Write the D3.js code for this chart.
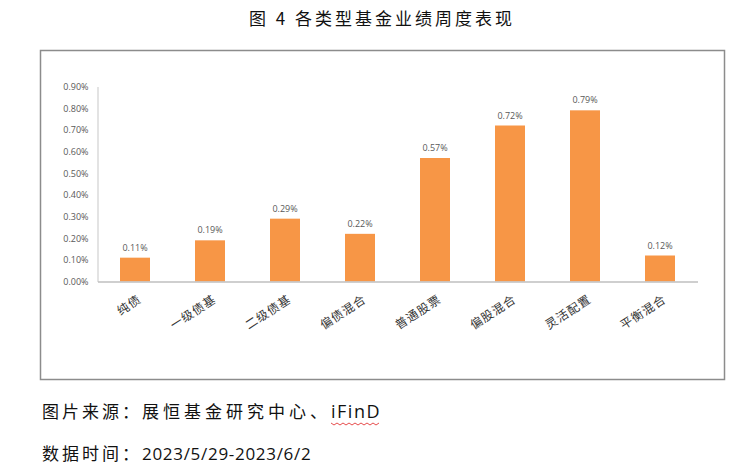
<!DOCTYPE html>
<html>
<head>
<meta charset="utf-8">
<script src="https://cdn.jsdelivr.net/npm/d3@7"></script>
<style>
  body { margin: 0; background: #fff; }
  text { font-family: "Noto Sans CJK SC", "Noto Sans", sans-serif; }
  .num { font-family: "Open Sans", "DejaVu Sans", sans-serif; }
</style>
</head>
<body>
<div class="container"></div>
<script>
var width = 746;
var height = 468;

// chart data
var categories = ['纯债', '一级债基', '二级债基', '偏债混合', '普通股票', '偏股混合', '灵活配置', '平衡混合'];
var returns = [0.11, 0.19, 0.29, 0.22, 0.57, 0.72, 0.79, 0.12];
var yTicks = [0, 0.1, 0.2, 0.3, 0.4, 0.5, 0.6, 0.7, 0.8, 0.9];

var titleText = '图 4 各类型基金业绩周度表现';
var sourceLabel = '图片来源：';
var sourceText = '展恒基金研究中心、';
var sourceBrand = 'iFinD';
var dateLabel = '数据时间：';
var dateText = '2023/5/29-2023/6/2';

var translate = function(x, y) {
    return 'translate(' + x + ',' + y + ')';
}

var draw = function() {
    var svg = d3.select('.container').append('svg')
        .attr('width', width)
        .attr('height', height);

    // title
    svg.append('text')
        .attr('x', 382)
        .attr('y', 25)
        .attr('text-anchor', 'middle')
        .style('font-size', '17px')
        .style('letter-spacing', '3px')
        .attr('fill', '#111')
        .text(titleText);

    // frame
    svg.append('rect')
        .attr('x', 40.5)
        .attr('y', 50.5)
        .attr('width', 684)
        .attr('height', 329)
        .attr('fill', 'none')
        .attr('stroke', '#8c8c8c')
        .attr('stroke-width', 1.5);

    var x = d3.scaleBand()
        .domain(categories)
        .range([97.5, 697.5])
        .paddingInner(0.6)
        .paddingOuter(0.3);

    var y = d3.scaleLinear()
        .domain([0, 0.9])
        .range([281.5, 86.5]);

    var yAxis = d3.axisLeft(y)
        .tickValues(yTicks)
        .tickSize(0)
        .tickPadding(9)
        .tickFormat(function(d) { return d.toFixed(2) + '%'; });

    var gy = svg.append('g')
        .attr('transform', translate(97.5, 0))
        .call(yAxis);
    gy.select('.domain').attr('stroke', '#d0d0d0').attr('stroke-width', 1.2);
    gy.selectAll('text')
        .attr('class', 'num')
        .attr('fill', '#595959')
        .style('font-size', '9px');

    // bars
    svg.append('g').selectAll('rect')
        .data(returns)
        .enter()
        .append('rect')
        .attr('x', function(d, i) { return x(categories[i]); })
        .attr('y', function(d) { return y(d); })
        .attr('width', x.bandwidth())
        .attr('height', function(d) { return y(0) - y(d); })
        .attr('fill', '#f79646');

    // value labels
    svg.append('g').selectAll('text')
        .data(returns)
        .enter()
        .append('text')
        .attr('class', 'num')
        .attr('x', function(d, i) { return x(categories[i]) + x.bandwidth() / 2; })
        .attr('y', function(d) { return y(d) - 7; })
        .attr('text-anchor', 'middle')
        .attr('fill', '#595959')
        .style('font-size', '9px')
        .text(function(d) { return d.toFixed(2) + '%'; });

    // x axis
    var xAxis = d3.axisBottom(x).tickSize(0).tickFormat('');
    var gx = svg.append('g')
        .attr('transform', translate(0, 281.5))
        .call(xAxis);
    gx.select('.domain').attr('stroke', '#bfbfbf').attr('stroke-width', 1.6);

    svg.append('g').selectAll('text')
        .data(categories)
        .enter()
        .append('text')
        .attr('transform', function(d) {
            return translate(x(d) + x.bandwidth() / 2 + 5, 298) + ' rotate(-33)';
        })
        .attr('dy', '0.35em')
        .attr('text-anchor', 'end')
        .attr('fill', '#333')
        .style('font-size', '12px')
        .style('letter-spacing', '1px')
        .text(function(d) { return d; });

    // footer
    var line1 = svg.append('text')
        .attr('x', 42)
        .attr('y', 418)
        .style('font-size', '17px')
        .attr('fill', '#111');
    line1.append('tspan').style('letter-spacing', '3px').text(sourceLabel);
    line1.append('tspan').style('letter-spacing', '4px').text(sourceText);
    var brand = line1.append('tspan')
        .attr('class', 'num')
        .style('font-size', '18px')
        .style('letter-spacing', '1.5px')
        .text(sourceBrand);

    var bb = brand.node().getBBox();
    var wave = d3.range(bb.x, bb.x + bb.width, 3).map(function(px, i) {
        return [px, 423 + (i % 2 ? 2 : 0)];
    });
    svg.append('path')
        .attr('d', d3.line()(wave))
        .attr('fill', 'none')
        .attr('stroke', '#e02020')
        .attr('stroke-width', 0.8);

    var line2 = svg.append('text')
        .attr('x', 42)
        .attr('y', 460)
        .style('font-size', '17px')
        .attr('fill', '#111');
    line2.append('tspan').style('letter-spacing', '3px').text(dateLabel);
    line2.append('tspan').attr('class', 'num').style('letter-spacing', '0.7px').text(dateText);
}

window.onload = draw;
</script>
</body>
</html>
